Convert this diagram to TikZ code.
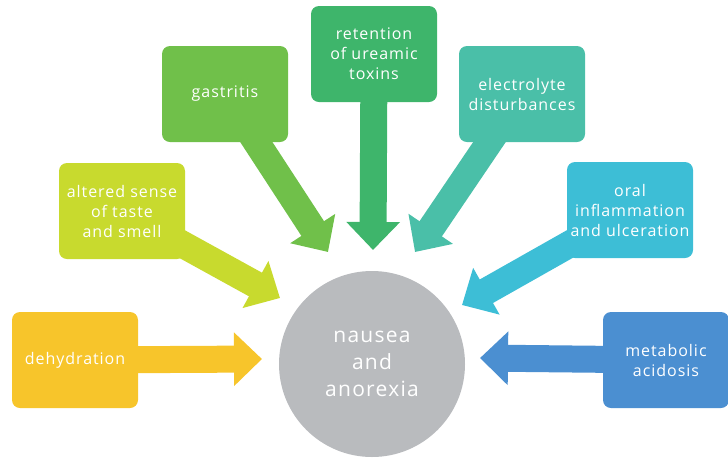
\documentclass[tikz,border=0pt]{standalone}
\usepackage{fontspec}
\setmainfont{Open Sans}[LetterSpace=6]
\usetikzlibrary{arrows.meta,positioning,backgrounds}

\definecolor{cdehyd}{HTML}{F7C52B}
\definecolor{ctaste}{HTML}{C8DA2E}
\definecolor{cgastr}{HTML}{70C04A}
\definecolor{curemic}{HTML}{3EB56B}
\definecolor{celectro}{HTML}{4ABFA8}
\definecolor{coral}{HTML}{3DBED6}
\definecolor{cacid}{HTML}{4B8FD1}
\definecolor{chub}{HTML}{B9BBBE}

\tikzset{
  cause/.style={rectangle, rounded corners=8pt, minimum width=126pt,
                minimum height=96pt, inner sep=0pt, text=white, align=center,
                font=\fontsize{16}{20}\selectfont},
  push/.style={line width=27pt, -{Triangle[length=28pt,width=52pt]}},
}

\begin{document}
\begin{tikzpicture}[x=1pt,y=-1pt]
  \useasboundingbox (0,0) rectangle (728,459);
  % Centre
  \node[circle, fill=chub, minimum size=186pt, text=white, align=center,
        font=\fontsize{21}{27}\selectfont] (hub) at (372,364)
        {nausea\\and\\anorexia};
  % Causes
  \node[cause, fill=cdehyd]   (dehyd)   at (75,360)  {dehydration};
  \node[cause, fill=ctaste]   (taste)   at (122,211) {altered sense\\of taste\\and smell};
  \node[cause, fill=cgastr]   (gastr)   at (225,94)  {gastritis};
  \node[cause, fill=curemic]  (uremic)  at (374,54)  {retention\\of ureamic\\toxins};
  \node[cause, fill=celectro] (electro) at (522,94)  {electrolyte\\disturbances};
  \node[cause, fill=coral]    (oral)    at (630,210) {oral\\inflammation\\and ulceration};
  \node[cause, fill=cacid]    (acid)    at (666,360) {metabolic\\acidosis};
  % Arrow tips
  \coordinate (tdehyd)   at (262,359);
  \coordinate (ttaste)   at (280,298);
  \coordinate (tgastr)   at (328,252);
  \coordinate (turemic)  at (373,250);
  \coordinate (telectro) at (415,252);
  \coordinate (toral)    at (462,305);
  \coordinate (tacid)    at (480,358);
  % Arrows
  \begin{scope}[on background layer]
    \foreach \n in {dehyd,taste,gastr,uremic,electro,oral,acid}
      \draw[push, draw=c\n] (\n.center) -- (t\n);
  \end{scope}
\end{tikzpicture}
\end{document}
